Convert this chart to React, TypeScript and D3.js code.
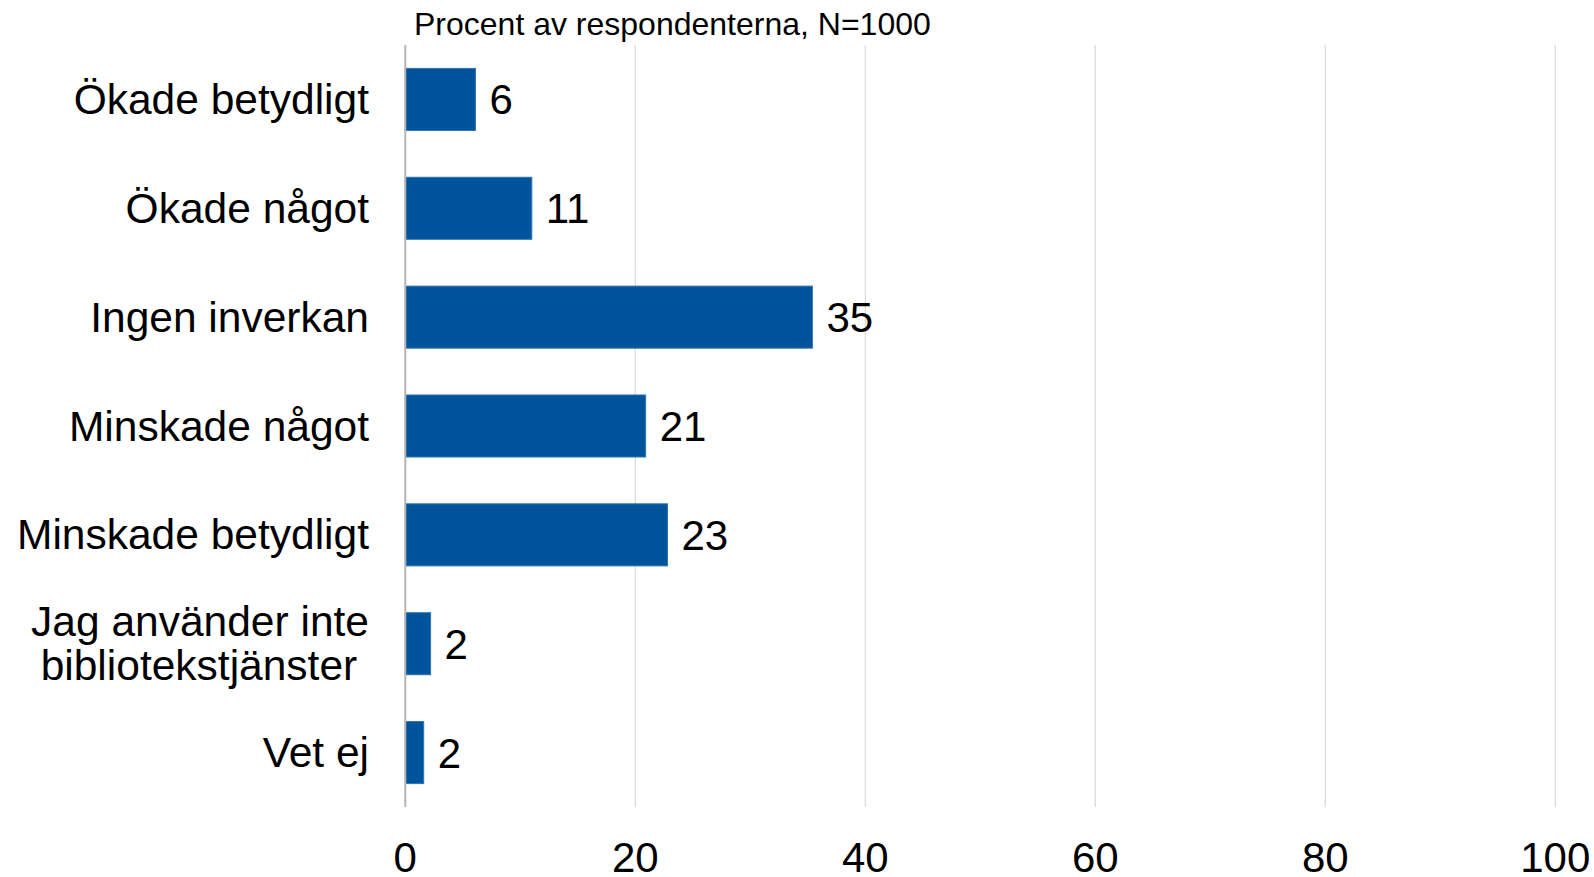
import React from "react";
import * as d3 from "d3";

const categories: string[] = [
  "Ökade betydligt",
  "Ökade något",
  "Ingen inverkan",
  "Minskade något",
  "Minskade betydligt",
  "Jag använder inte\nbibliotekstjänster ",
  "Vet ej",
];
const values: number[] = [6.1, 11.0, 35.4, 20.9, 22.8, 2.2, 1.6];
const valueLabels: string[] = ["6", "11", "35", "21", "23", "2", "2"];
const xTicks: number[] = [0, 20, 40, 60, 80, 100];
const title = "Procent av respondenterna, N=1000";

const W = 1594;
const H = 877;
const FONT = "'Liberation Sans', Arial, sans-serif";

export default function App() {
  const x = d3.scaleLinear().domain([0, 100]).range([405.3, 1555.3]);
  const y = d3
    .scaleBand<string>()
    .domain(categories)
    .range([45, 807])
    .paddingInner(0.43)
    .paddingOuter(0.215);
  const bw = y.bandwidth();

  return (
    <svg
      width={W}
      height={H}
      style={{ position: "fixed", left: 0, top: 0, background: "#fff" }}
      fontFamily={FONT}
    >
      <rect x={0} y={0} width={W} height={H} fill="#fff" />
      <text x={414} y={35} fontSize={32} fill="#000">
        {title}
      </text>
      {xTicks.slice(1).map((t) => (
        <line
          key={"g" + t}
          x1={x(t)}
          x2={x(t)}
          y1={45}
          y2={807}
          stroke="#d9d9d9"
          strokeWidth={1.2}
        />
      ))}
      {categories.map((c, i) => {
        const yc = (y(c) as number) + bw / 2;
        return (
          <g key={c}>
            <rect
              x={x(0)}
              y={y(c) as number}
              width={x(values[i]) - x(0)}
              height={bw}
              fill="#00549c"
              stroke="#2f74b5"
              strokeWidth={1}
            />
            <text
              x={x(values[i]) + 14}
              y={yc + 15}
              fontSize={42}
              fill="#000"
            >
              {valueLabels[i]}
            </text>
          </g>
        );
      })}
      <line x1={x(0)} x2={x(0)} y1={45} y2={807} stroke="#b4b4b4" strokeWidth={2} />
      {categories.map((c) => {
        const yc = (y(c) as number) + bw / 2;
        const lines = c.split("\n");
        const L = 44;
        return (
          <text
            key={"l" + c}
            textAnchor="end"
            fontSize={42.5}
            fill="#000"
            style={{ whiteSpace: "pre" }}
          >
            {lines.map((ln, k) => (
              <tspan
                key={k}
                x={369}
                y={yc + 14.5 + (k - (lines.length - 1) / 2) * L}
              >
                {ln}
              </tspan>
            ))}
          </text>
        );
      })}
      {xTicks.map((t) => (
        <text
          key={"t" + t}
          x={x(t)}
          y={872}
          textAnchor="middle"
          fontSize={42}
          fill="#000"
        >
          {t}
        </text>
      ))}
    </svg>
  );
}
